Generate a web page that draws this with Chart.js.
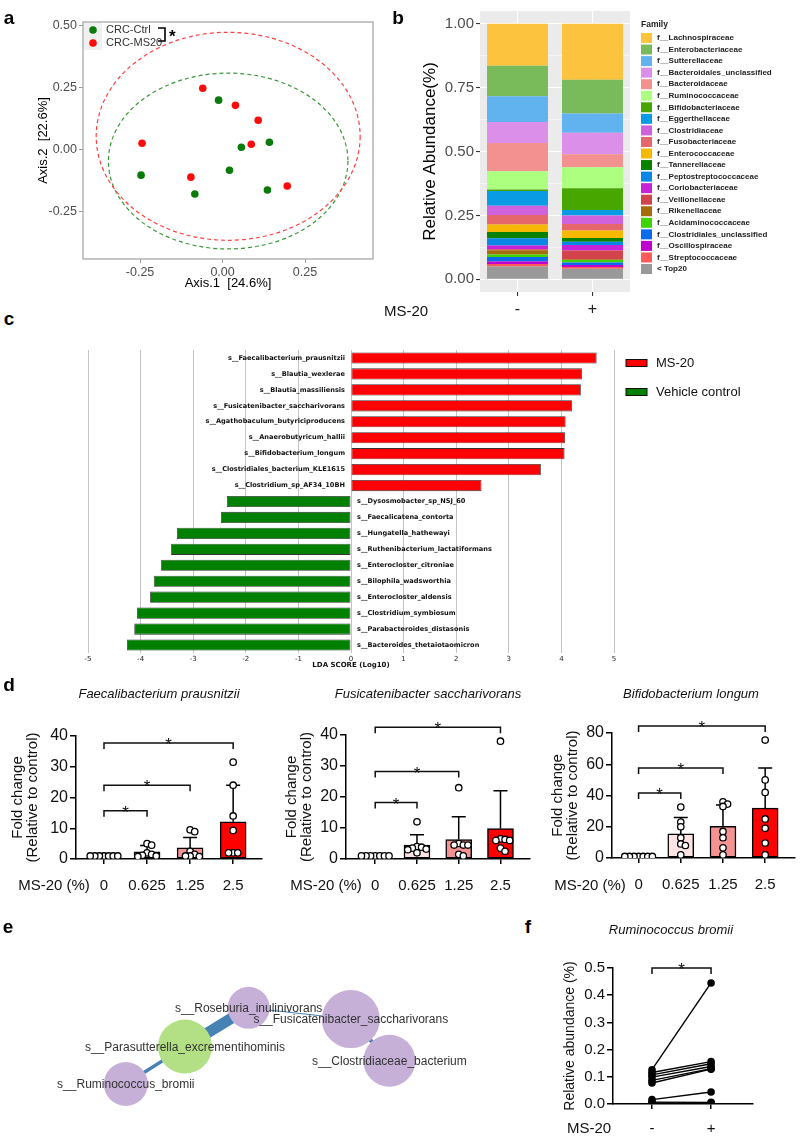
<!DOCTYPE html>
<html>
<head>
<meta charset="utf-8">
<script src="https://cdn.jsdelivr.net/npm/chart.js@4.4.0/dist/chart.umd.min.js"></script>
<style>
body { margin: 0; background: #fff; }
#fig { position: relative; width: 800px; height: 1137px; overflow: hidden; font-family: 'Liberation Sans', Arial, sans-serif; color: #111; }
canvas { position: absolute; }
.t { position: absolute; transform: translate(-50%, -50%); white-space: nowrap; line-height: 1; }
.L { font-weight: bold; font-size: 19px; color: #000; }
.it { font-style: italic; font-size: 13px; }
.ax { font-size: 15px; }
</style>
</head>
<body>
<div id="fig">
  <canvas id="ca" width="380" height="300" style="left:0;top:0"></canvas>
  <canvas id="cb" width="420" height="325" style="left:380px;top:0"></canvas>
  <canvas id="cc" width="720" height="335" style="left:80px;top:340px"></canvas>
  <canvas id="cd1" width="270" height="225" style="left:0;top:670px"></canvas>
  <canvas id="cd2" width="265" height="225" style="left:270px;top:670px"></canvas>
  <canvas id="cd3" width="265" height="225" style="left:535px;top:670px"></canvas>
  <canvas id="ce" width="560" height="197" style="left:0;top:940px"></canvas>
  <canvas id="cf" width="240" height="237" style="left:560px;top:900px"></canvas>

  <span class="t L" style="left:9px;top:17px">a</span>
  <span class="t L" style="left:398px;top:17px">b</span>
  <span class="t L" style="left:9px;top:318px">c</span>
  <span class="t L" style="left:9px;top:684px">d</span>
  <span class="t L" style="left:8px;top:926px">e</span>
  <span class="t L" style="left:528px;top:926px">f</span>

  <span class="t ax" style="left:406px;top:310px">MS-20</span>
  <span class="t it" style="left:159px;top:693px">Faecalibacterium prausnitzii</span>
  <span class="t it" style="left:428px;top:693px">Fusicatenibacter saccharivorans</span>
  <span class="t it" style="left:691px;top:693px">Bifidobacterium longum</span>
  <span class="t ax" style="left:54px;top:884px">MS-20 (%)</span>
  <span class="t ax" style="left:326px;top:884px">MS-20 (%)</span>
  <span class="t ax" style="left:590px;top:884px">MS-20 (%)</span>
  <span class="t it" style="left:671px;top:929px">Ruminococcus bromii</span>
  <span class="t ax" style="left:589px;top:1127px">MS-20</span>
</div>

<script>
// ---- a: PCoA
const ctrlX = [-0.012, 0.057, 0.142, -0.247, 0.021, -0.084, 0.136]
const ctrlY = [0.198, 0.008, 0.028, -0.105, -0.085, -0.181, -0.165]
const ms20X = [-0.060, 0.039, 0.108, 0.087, -0.244, -0.096, 0.196]
const ms20Y = [0.246, 0.177, 0.117, 0.020, 0.024, -0.113, -0.149]
const ellCx = [0.017, 0.017]
const ellCy = [-0.048, 0.052]
const ellRx = [0.363, 0.40]
const ellRy = [0.355, 0.42]

// ---- b: family composition (legend order, top of stack first)
const families = ['f__Lachnospiraceae', 'f__Enterobacteriaceae', 'f__Sutterellaceae', 'f__Bacteroidales_unclassified',
  'f__Bacteroidaceae', 'f__Ruminococcaceae', 'f__Bifidobacteriaceae', 'f__Eggerthellaceae', 'f__Clostridiaceae',
  'f__Fusobacteriaceae', 'f__Enterococcaceae', 'f__Tannerellaceae', 'f__Peptostreptococcaceae', 'f__Coriobacteriaceae',
  'f__Veillonellaceae', 'f__Rikenellaceae', 'f__Acidaminococcaceae', 'f__Clostridiales_unclassified',
  'f__Oscillospiraceae', 'f__Streptococcaceae', '< Top20']
const groupsB = ['-', '+']
const abundCtrl = [0.164, 0.120, 0.101, 0.082, 0.110, 0.072, 0.006, 0.057, 0.037, 0.037, 0.029, 0.025, 0.028, 0.015, 0.004, 0.016, 0.010, 0.018, 0.009, 0.010, 0.050]
const abundMs20 = [0.219, 0.132, 0.076, 0.084, 0.051, 0.082, 0.085, 0.022, 0.033, 0.025, 0.030, 0.014, 0.013, 0.022, 0.034, 0.003, 0.010, 0.009, 0.008, 0.007, 0.041]

// ---- c: LEfSe
const ldaSpecies = ['s__Faecalibacterium_prausnitzii', 's__Blautia_wexlerae', 's__Blautia_massiliensis',
  's__Fusicatenibacter_saccharivorans', 's__Agathobaculum_butyriciproducens', 's__Anaerobutyricum_hallii',
  's__Bifidobacterium_longum', 's__Clostridiales_bacterium_KLE1615', 's__Clostridium_sp_AF34_10BH',
  's__Dysosmobacter_sp_NSJ_60', 's__Faecalicatena_contorta', 's__Hungatella_hathewayi',
  's__Ruthenibacterium_lactatiformans', 's__Enterocloster_citroniae', 's__Bilophila_wadsworthia',
  's__Enterocloster_aldensis', 's__Clostridium_symbiosum', 's__Parabacteroides_distasonis',
  's__Bacteroides_thetaiotaomicron']
const ldaScore = [4.67, 4.39, 4.37, 4.20, 4.08, 4.07, 4.06, 3.61, 2.48, -2.36, -2.47, -3.31, -3.42, -3.61, -3.75, -3.82, -4.07, -4.12, -4.26]
const ldaGroups = ['MS-20', 'Vehicle control']

// ---- d: fold change
const doses = ['0', '0.625', '1.25', '2.5']
const fpMean = [1, 2.3, 3.6, 12.1]
const fpSdTop = [1, 4.4, 7.0, 24.0]
const fpPoints = [[1, 1, 1, 1, 1, 1, 1], [5.0, 4.5, 2.0, 1.5, 1.2, 1.0, 0.8], [9.5, 8.9, 2.5, 1.5, 1.0, 1.0, 0.8], [31.5, 24, 14, 9.3, 2, 2, 2]]
const fpBrackets = [[0, 1, 15.7], [0, 2, 24], [0, 3, 37.7]]
const fsMean = [1, 4.5, 6.3, 9.8]
const fsSdTop = [1, 7.8, 13.6, 22]
const fsPoints = [[1, 1, 1, 1, 1, 1, 1], [12, 4.0, 3.8, 3.5, 3.2, 3.0, 2.0], [23, 5.0, 4.5, 4.5, 4.5, 1.5, 1.0], [38, 6.5, 6.3, 6.0, 6.0, 3.5, 2.5]]
const fsBrackets = [[0, 1, 18.2], [0, 2, 28.2], [0, 3, 42.5]]
const blMean = [1, 15.4, 20.3, 31.9]
const blSdTop = [1, 26, 34, 57.6]
const blPoints = [[1, 1, 1, 1, 1, 1, 1], [32.6, 23, 20, 13, 9, 8, 2], [36, 34.5, 33, 17, 13, 6.5, 2], [75.5, 50, 42, 25, 19, 9.6, 2]]
const blBrackets = [[0, 1, 41.6], [0, 2, 57.6], [0, 3, 84.5]]

// ---- e: co-occurrence network
const nodeNames = ['s__Roseburia_inulinivorans', 's__Fusicatenibacter_saccharivorans', 's__Parasutterella_excrementihominis', 's__Ruminococcus_bromii', 's__Clostridiaceae_bacterium']
const nodeX = [24.5, 35.9, 17.4, 10.8, 40.2]
const nodeY = [14.2, 12.6, 8.7, 3.4, 6.7]
const nodeSize = [21, 29, 27, 22, 26]
const edgeFrom = [0, 2, 0, 1]
const edgeTo = [2, 3, 1, 4]
const edgeWeight = [11, 3.5, 1, 4]

// ---- f: paired
const rbGroups = ['-', '+']
const rbPre = [0.126, 0.116, 0.107, 0.099, 0.087, 0.077, 0.016, 0.007, 0.004]
const rbPost = [0.445, 0.156, 0.148, 0.138, 0.130, 0.128, 0.044, 0.006, 0.004]

Chart.defaults.animation = false
Chart.defaults.responsive = false
Chart.defaults.font.family = "'Liberation Sans', Arial, sans-serif"
Chart.defaults.color = '#111'
Chart.defaults.plugins.legend.display = false
Chart.defaults.plugins.tooltip.enabled = false

const fixW = w => s => { s.width = w }
const fixH = h => s => { s.height = h }

// ===== panel a
const pcoaDecor = {
  id: 'pcoaDecor',
  beforeDatasetsDraw(chart) {
    const { ctx, scales: { x, y } } = chart
    const cols = ['#3A9A3A', '#FF4040']
    ctx.save()
    ctx.setLineDash([4, 3])
    ctx.lineWidth = 1.2
    ellCx.forEach((cx, i) => {
      const px = x.getPixelForValue(cx), py = y.getPixelForValue(ellCy[i])
      const rx = Math.abs(x.getPixelForValue(cx + ellRx[i]) - px)
      const ry = Math.abs(y.getPixelForValue(ellCy[i] + ellRy[i]) - py)
      ctx.strokeStyle = cols[i]
      ctx.beginPath()
      ctx.ellipse(px, py, rx, ry, 0, 0, Math.PI * 2)
      ctx.stroke()
    })
    ctx.restore()
  },
  afterDraw(chart) {
    const { ctx, chartArea: a } = chart
    ctx.save()
    ctx.strokeStyle = '#A8A8A8'
    ctx.lineWidth = 1.3
    ctx.strokeRect(a.left, a.top, a.right - a.left, a.bottom - a.top)
    ctx.fillStyle = '#F0F0F0'
    ctx.fillRect(a.left + 1, a.top + 1, 18, 27)
    ctx.font = "11px 'Liberation Sans'"
    ctx.textBaseline = 'middle'
    chart.data.datasets.forEach((ds, i) => {
      const yy = a.top + 8 + i * 13
      ctx.fillStyle = ds.backgroundColor
      ctx.beginPath()
      ctx.arc(a.left + 10, yy, 3.8, 0, Math.PI * 2)
      ctx.fill()
      ctx.fillStyle = '#333'
      ctx.fillText(ds.label, a.left + 23, yy)
    })
    ctx.strokeStyle = '#000'
    ctx.lineWidth = 1.6
    ctx.beginPath()
    ctx.moveTo(a.left + 75, a.top + 6)
    ctx.lineTo(a.left + 82, a.top + 6)
    ctx.lineTo(a.left + 82, a.top + 19)
    ctx.lineTo(a.left + 75, a.top + 19)
    ctx.stroke()
    ctx.fillStyle = '#000'
    ctx.font = "bold 17px 'Liberation Sans'"
    ctx.fillText('*', a.left + 86, a.top + 15)
    ctx.restore()
  }
}

new Chart(document.getElementById('ca'), {
  type: 'scatter',
  data: {
    datasets: [
      { label: 'CRC-Ctrl', data: ctrlX.map((x, i) => ({ x, y: ctrlY[i] })), backgroundColor: '#0A7A0A', borderWidth: 0, pointRadius: 3.8 },
      { label: 'CRC-MS20', data: ms20X.map((x, i) => ({ x, y: ms20Y[i] })), backgroundColor: '#FF0A0A', borderWidth: 0, pointRadius: 3.8 },
    ],
  },
  options: {
    layout: { padding: { left: 0, top: 22, right: 7, bottom: 0 } },
    scales: {
      x: {
        min: -0.423, max: 0.456,
        ticks: { stepSize: 0.25, includeBounds: false, callback: v => v.toFixed(2), color: '#4D4D4D', font: { size: 12.5 }, padding: 2 },
        grid: { drawOnChartArea: false, tickLength: 4, color: '#999' },
        border: { display: false },
        title: { display: true, text: 'Axis.1  [24.6%]', color: '#000', font: { size: 13 }, padding: { top: 0, bottom: 9 } },
        afterFit: fixH(41),
      },
      y: {
        min: -0.4435, max: 0.5135,
        ticks: { stepSize: 0.25, includeBounds: false, callback: v => v.toFixed(2), color: '#4D4D4D', font: { size: 12.5 }, padding: 2 },
        grid: { drawOnChartArea: false, tickLength: 4, color: '#999' },
        border: { display: false },
        title: { display: true, text: 'Axis.2  [22.6%]', color: '#000', font: { size: 13 }, padding: { top: 36, bottom: 0 } },
        afterFit: fixW(83),
      },
    },
  },
  plugins: [pcoaDecor],
})

// ===== panel b
const famColors = ['#FCC43E', '#79BB5B', '#60B3EF', '#DC8FE8', '#F39090', '#ADFF80', '#48A600', '#0A9BE5', '#D062DE',
  '#E5676B', '#F6B800', '#0A8200', '#0A86E6', '#C623D8', '#D3434C', '#A66B0A', '#3DD400', '#0A6BEB', '#BF00CF', '#FF5A5A', '#999999']

const famLegend = {
  id: 'famLegend',
  beforeDraw(chart) {
    const { ctx, chartArea: a } = chart
    ctx.save()
    ctx.fillStyle = '#EBEBEB'
    ctx.fillRect(a.left, a.top, a.right - a.left, a.bottom - a.top)
    ctx.restore()
  },
  afterDraw(chart) {
    const { ctx, chartArea: a } = chart
    const x0 = a.right + 11
    ctx.save()
    ctx.textBaseline = 'middle'
    ctx.fillStyle = '#222'
    ctx.font = "bold 8.5px 'Liberation Sans'"
    ctx.fillText('Family', x0, 25)
    ctx.font = "bold 8px 'Liberation Sans'"
    families.forEach((f, i) => {
      const yy = 38 + i * 11.55
      ctx.fillStyle = famColors[i]
      ctx.fillRect(x0, yy - 5, 11, 10)
      ctx.fillStyle = '#222'
      ctx.fillText(f, x0 + 16, yy)
    })
    ctx.restore()
  }
}

const famDatasets = families.map((f, i) => ({
  label: f,
  data: [abundCtrl[i], abundMs20[i]],
  backgroundColor: famColors[i],
  borderWidth: 0,
  barPercentage: 0.813,
  categoryPercentage: 1,
})).reverse()

new Chart(document.getElementById('cb'), {
  type: 'bar',
  data: { labels: groupsB, datasets: famDatasets },
  options: {
    layout: { padding: { left: 0, top: 2, right: 170, bottom: 0 } },
    scales: {
      x: {
        stacked: true,
        ticks: { color: '#222', font: { size: 16 }, padding: 4 },
        grid: { offset: false, color: '#fff', lineWidth: 1.1, tickColor: '#333', tickLength: 4 },
        border: { display: false },
        afterFit: fixH(33),
      },
      y: {
        stacked: true, min: -0.05, max: 1.05,
        afterBuildTicks: s => { s.ticks = Array.from({ length: 9 }, (_, i) => ({ value: i * 0.125 })) },
        ticks: { color: '#4D4D4D', font: { size: 15 }, padding: 2, callback: v => ((v * 4) % 1 === 0 ? v.toFixed(2) : '') },
        grid: {
          color: '#fff',
          lineWidth: c => (c.tick && (c.tick.value * 4) % 1 === 0 ? 1.1 : 0.5),
          tickColor: c => (c.tick && (c.tick.value * 4) % 1 === 0 ? '#333' : 'rgba(0,0,0,0)'),
          tickLength: 4,
        },
        border: { display: false },
        title: { display: true, text: 'Relative Abundance(%)', color: '#000', font: { size: 17 }, padding: { top: 40, bottom: 0 } },
        afterFit: fixW(100),
      },
    },
  },
  plugins: [famLegend],
})

// ===== panel c
const ldaColors = ['#FF0000', '#008000']
const ldaDecor = {
  id: 'ldaDecor',
  afterDatasetsDraw(chart) {
    const { ctx, chartArea: a } = chart
    const meta = chart.getDatasetMeta(0)
    const x0 = chart.scales.x.getPixelForValue(0)
    ctx.save()
    ctx.font = "bold 6.6px 'DejaVu Sans'"
    ctx.fillStyle = '#111'
    ctx.textBaseline = 'middle'
    meta.data.forEach((bar, i) => {
      if (ldaScore[i] > 0) {
        ctx.textAlign = 'right'
        ctx.fillText(ldaSpecies[i], x0 - 6, bar.y)
      } else {
        ctx.textAlign = 'left'
        ctx.fillText(ldaSpecies[i], x0 + 6, bar.y)
      }
    })
    // legend
    ctx.textAlign = 'left'
    ctx.font = "13px 'Liberation Sans'"
    ldaGroups.forEach((g, i) => {
      const yy = 23 + i * 29
      ctx.fillStyle = ldaColors[i]
      ctx.fillRect(a.right + 12, yy - 3.5, 21, 7)
      ctx.strokeStyle = '#111'
      ctx.lineWidth = 1
      ctx.strokeRect(a.right + 12, yy - 3.5, 21, 7)
      ctx.fillStyle = '#111'
      ctx.fillText(g, a.right + 42, yy)
    })
    ctx.restore()
  }
}

new Chart(document.getElementById('cc'), {
  type: 'bar',
  data: {
    labels: ldaSpecies,
    datasets: [{
      data: ldaScore,
      backgroundColor: ldaScore.map(v => (v > 0 ? ldaColors[0] : ldaColors[1])),
      borderColor: '#333',
      borderWidth: 0.8,
      borderSkipped: false,
      barPercentage: 0.7,
      categoryPercentage: 1,
    }],
  },
  options: {
    indexAxis: 'y',
    layout: { padding: { left: 8, top: 10, right: 186, bottom: 0 } },
    scales: {
      x: {
        min: -5, max: 5,
        ticks: { stepSize: 1, color: '#222', font: { size: 7, family: "'DejaVu Sans'" }, padding: 2 },
        grid: { color: '#C4C4C4', lineWidth: 1, drawTicks: false },
        border: { display: false },
        title: { display: true, text: 'LDA SCORE (Log10)', color: '#111', font: { size: 7, weight: 'bold', family: "'DejaVu Sans'" }, padding: { top: 0, bottom: 5.8 } },
        afterFit: fixH(22),
      },
      y: { display: false },
    },
  },
  plugins: [ldaDecor],
})

// ===== panel d
const doseColors = ['#FFFFFF', '#FDE3E3', '#F59393', '#FF0000']

function swarm(chart, dsIndex, minDist) {
  const ds = chart.data.datasets[dsIndex]
  const xs = chart.scales.x, ys = chart.scales.y
  const pxPerX = Math.abs(xs.getPixelForValue(1) - xs.getPixelForValue(0))
  const placed = {}
  ds.data = ds.data.map(p => {
    const py = ys.getPixelForValue(p.y)
    const list = placed[p.x] || (placed[p.x] = [])
    let off = 0
    for (let k = 0; k < 30; k++) {
      off = k === 0 ? 0 : (k % 2 ? 1 : -1) * Math.ceil(k / 2) * minDist
      if (list.every(q => Math.hypot(q.dx - off, q.py - py) >= minDist - 0.01)) break
    }
    list.push({ dx: off, py })
    return { x: p.x + off / pxPerX, y: p.y }
  })
  chart.update()
}

function foldDecor(mean, sdTop, brackets) {
  return {
    id: 'foldDecor',
    beforeDatasetsDraw(chart) {
      const { ctx, scales: { x, y } } = chart
      ctx.save()
      ctx.strokeStyle = '#000'
      ctx.lineWidth = 1.5
      mean.forEach((m, i) => {
        if (sdTop[i] <= m) return
        const px = x.getPixelForValue(i)
        const y0 = y.getPixelForValue(m), y1 = y.getPixelForValue(sdTop[i])
        ctx.beginPath()
        ctx.moveTo(px, y0); ctx.lineTo(px, y1)
        ctx.moveTo(px - 7, y1); ctx.lineTo(px + 7, y1)
        ctx.stroke()
      })
      ctx.restore()
    },
    afterDraw(chart) {
      const { ctx, scales: { x, y } } = chart
      ctx.save()
      ctx.strokeStyle = '#111'
      ctx.lineWidth = 1.5
      ctx.fillStyle = '#111'
      ctx.font = "17px 'Liberation Sans'"
      ctx.textAlign = 'center'
      ctx.textBaseline = 'alphabetic'
      brackets.forEach(([a, b, v]) => {
        const xa = x.getPixelForValue(a), xb = x.getPixelForValue(b), py = y.getPixelForValue(v)
        ctx.beginPath()
        ctx.moveTo(xa, py + 6); ctx.lineTo(xa, py); ctx.lineTo(xb, py); ctx.lineTo(xb, py + 6)
        ctx.stroke()
        ctx.fillText('*', (xa + xb) / 2, py + 7)
      })
      ctx.restore()
    }
  }
}

function foldChart(id, mean, sdTop, points, brackets, yMax, yStep, box) {
  const dots = []
  points.forEach((g, i) => g.forEach(v => dots.push({ x: i, y: v })))
  const chart = new Chart(document.getElementById(id), {
    type: 'bar',
    data: {
      datasets: [
        {
          type: 'bar', data: mean.map((m, i) => ({ x: i, y: m })), backgroundColor: doseColors,
          borderColor: '#000', borderWidth: 1.5, borderSkipped: false, barThickness: 26, order: 2,
        },
        {
          type: 'scatter', data: dots, backgroundColor: '#fff', borderColor: '#000', borderWidth: 1.3,
          pointRadius: 3.2, order: 1,
        },
      ],
    },
    options: {
      layout: { padding: { left: 0, top: box.top, right: box.right, bottom: 0 } },
      scales: {
        x: {
          type: 'linear', min: box.xmin, max: box.xmax, offset: false,
          afterBuildTicks: s => { s.ticks = doses.map((d, i) => ({ value: i })) },
          ticks: { callback: v => doses[v], font: { size: 15 }, color: '#111', padding: 12.5, maxRotation: 0 },
          grid: { drawOnChartArea: false, tickLength: 5, color: '#000', lineWidth: 1.5, offset: false },
          border: { color: '#000', width: 1.5 },
          afterFit: fixH(box.xh),
        },
        y: {
          min: 0, max: yMax,
          ticks: { stepSize: yStep, font: { size: 16 }, color: '#111', padding: 2 },
          grid: { drawOnChartArea: false, tickLength: 6, color: '#000', lineWidth: 1.5 },
          border: { color: '#000', width: 1.5 },
          title: { display: true, text: ['Fold change', '(Relative to control)'], color: '#111', font: { size: 15, lineHeight: 1 }, padding: { top: box.tpad, bottom: 0 } },
          afterFit: fixW(box.yw),
        },
      },
    },
    plugins: [foldDecor(mean, sdTop, brackets)],
  })
  swarm(chart, 1, 4.6)
}

foldChart('cd1', fpMean, fpSdTop, fpPoints, fpBrackets, 40, 10, { top: 66, right: 8, xh: 36, yw: 76, tpad: 10.5, xmin: -0.65, xmax: 3.67 })
foldChart('cd2', fsMean, fsSdTop, fsPoints, fsBrackets, 40, 10, { top: 65, right: 1, xh: 36, yw: 76, tpad: 14.5, xmin: -0.70, xmax: 3.70 })
foldChart('cd3', blMean, blSdTop, blPoints, blBrackets, 80, 20, { top: 63, right: 3, xh: 37, yw: 77, tpad: 15.5, xmin: -0.63, xmax: 3.70 })

// ===== panel e
const netLabels = {
  id: 'netLabels',
  afterDatasetsDraw(chart) {
    const { ctx, scales: { x, y } } = chart
    ctx.save()
    ctx.font = "12px 'Liberation Sans'"
    ctx.fillStyle = '#333'
    ctx.textAlign = 'center'
    ctx.textBaseline = 'middle'
    nodeNames.forEach((n, i) => ctx.fillText(n, x.getPixelForValue(nodeX[i]), y.getPixelForValue(nodeY[i]) + 1))
    ctx.restore()
  }
}

const edgeSets = edgeFrom.map((a, k) => ({
  type: 'line',
  data: [{ x: nodeX[a], y: nodeY[a] }, { x: nodeX[edgeTo[k]], y: nodeY[edgeTo[k]] }],
  borderColor: '#4682B4', borderWidth: edgeWeight[k], pointRadius: 0, order: 2,
}))

new Chart(document.getElementById('ce'), {
  type: 'bubble',
  data: {
    datasets: [
      ...edgeSets,
      {
        type: 'bubble',
        data: nodeX.map((x, i) => ({ x, y: nodeY[i], r: nodeSize[i] })),
        backgroundColor: nodeNames.map((n, i) => (i === 2 ? '#B3E085' : '#C6B0D8')),
        borderWidth: 0, order: 1,
      },
    ],
  },
  options: {
    layout: { padding: 0 },
    scales: {
      x: { type: 'linear', display: false, min: 0, max: 56 },
      y: { type: 'linear', display: false, min: 0, max: 19.7 },
    },
  },
  plugins: [netLabels],
})

// ===== panel f
const pairDecor = {
  id: 'pairDecor',
  afterDraw(chart) {
    const { ctx, scales: { x, y } } = chart
    const xa = x.getPixelForValue(0), xb = x.getPixelForValue(1), py = y.getPixelForValue(0.5)
    ctx.save()
    ctx.strokeStyle = '#111'
    ctx.lineWidth = 1.5
    ctx.beginPath()
    ctx.moveTo(xa, py + 6); ctx.lineTo(xa, py); ctx.lineTo(xb, py); ctx.lineTo(xb, py + 6)
    ctx.stroke()
    ctx.fillStyle = '#111'
    ctx.font = "17px 'Liberation Sans'"
    ctx.textAlign = 'center'
    ctx.fillText('*', (xa + xb) / 2, py + 7)
    ctx.restore()
  }
}

new Chart(document.getElementById('cf'), {
  type: 'line',
  data: {
    datasets: rbPre.map((v, i) => ({
      data: [{ x: 0, y: v }, { x: 1, y: rbPost[i] }],
      borderColor: '#000', borderWidth: 1.4, backgroundColor: '#000', pointRadius: 3.8, pointBorderWidth: 0,
    })),
  },
  options: {
    layout: { padding: { left: 0, top: 68, right: 47, bottom: 0 } },
    scales: {
      x: {
        type: 'linear', min: -0.66, max: 1.71,
        afterBuildTicks: s => { s.ticks = rbGroups.map((g, i) => ({ value: i })) },
        ticks: { callback: v => rbGroups[v], font: { size: 15 }, color: '#111', padding: 10.5 },
        grid: { drawOnChartArea: false, tickLength: 5, color: '#000', lineWidth: 1.5 },
        border: { color: '#000', width: 1.5 },
        afterFit: fixH(33),
      },
      y: {
        min: 0, max: 0.5,
        ticks: { stepSize: 0.1, callback: v => v.toFixed(1), font: { size: 15 }, color: '#111', padding: 2 },
        grid: { drawOnChartArea: false, tickLength: 6, color: '#000', lineWidth: 1.5 },
        border: { color: '#000', width: 1.5 },
        title: { display: true, text: 'Relative abundance (%)', color: '#111', font: { size: 14 }, padding: { top: 1.6, bottom: 0 } },
        afterFit: fixW(53),
      },
    },
  },
  plugins: [pairDecor],
})
</script>
</body>
</html>
